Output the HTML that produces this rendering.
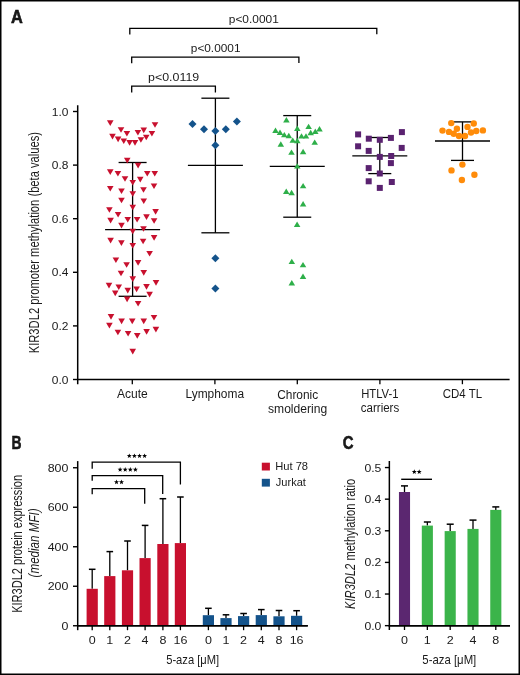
<!DOCTYPE html>
<html><head><meta charset="utf-8"><style>
html,body{margin:0;padding:0;background:#fff;}
body{width:520px;height:675px;overflow:hidden;}
svg{display:block;will-change:transform;}
svg text{font-family:"Liberation Sans",sans-serif;fill:#1a1a1a;}
</style></head><body>
<svg width="520" height="675" viewBox="0 0 520 675">
<rect x="0" y="0" width="520" height="675" fill="#fff"/>
<rect x="0.75" y="0.75" width="518.5" height="673.5" fill="none" stroke="#000" stroke-width="1.5"/>
<text x="10.90" y="22.80" font-size="17.5" text-anchor="start" font-weight="bold" font-style="normal" textLength="11.80" lengthAdjust="spacingAndGlyphs" stroke="#000" stroke-width="0.5">A</text>
<line x1="77.70" y1="105.30" x2="77.70" y2="384.30" stroke="#000" stroke-width="1.5"/>
<line x1="77.00" y1="379.50" x2="509.60" y2="379.50" stroke="#000" stroke-width="1.5"/>
<line x1="73.00" y1="379.50" x2="77.70" y2="379.50" stroke="#000" stroke-width="1.4"/>
<text x="68.40" y="383.60" font-size="11.3" text-anchor="end" font-weight="normal" font-style="normal" textLength="16.65" lengthAdjust="spacingAndGlyphs">0.0</text>
<line x1="73.00" y1="325.90" x2="77.70" y2="325.90" stroke="#000" stroke-width="1.4"/>
<text x="68.40" y="330.00" font-size="11.3" text-anchor="end" font-weight="normal" font-style="normal" textLength="16.65" lengthAdjust="spacingAndGlyphs">0.2</text>
<line x1="73.00" y1="272.30" x2="77.70" y2="272.30" stroke="#000" stroke-width="1.4"/>
<text x="68.40" y="276.40" font-size="11.3" text-anchor="end" font-weight="normal" font-style="normal" textLength="16.65" lengthAdjust="spacingAndGlyphs">0.4</text>
<line x1="73.00" y1="218.70" x2="77.70" y2="218.70" stroke="#000" stroke-width="1.4"/>
<text x="68.40" y="222.80" font-size="11.3" text-anchor="end" font-weight="normal" font-style="normal" textLength="16.65" lengthAdjust="spacingAndGlyphs">0.6</text>
<line x1="73.00" y1="165.10" x2="77.70" y2="165.10" stroke="#000" stroke-width="1.4"/>
<text x="68.40" y="169.20" font-size="11.3" text-anchor="end" font-weight="normal" font-style="normal" textLength="16.65" lengthAdjust="spacingAndGlyphs">0.8</text>
<line x1="73.00" y1="111.50" x2="77.70" y2="111.50" stroke="#000" stroke-width="1.4"/>
<text x="68.40" y="115.60" font-size="11.3" text-anchor="end" font-weight="normal" font-style="normal" textLength="16.65" lengthAdjust="spacingAndGlyphs">1.0</text>
<line x1="132.30" y1="379.50" x2="132.30" y2="384.20" stroke="#000" stroke-width="1.3"/>
<line x1="214.90" y1="379.50" x2="214.90" y2="384.20" stroke="#000" stroke-width="1.3"/>
<line x1="297.30" y1="379.50" x2="297.30" y2="384.20" stroke="#000" stroke-width="1.3"/>
<line x1="379.90" y1="379.50" x2="379.90" y2="384.20" stroke="#000" stroke-width="1.3"/>
<line x1="462.40" y1="379.50" x2="462.40" y2="384.20" stroke="#000" stroke-width="1.3"/>
<text x="132.30" y="397.90" font-size="12" text-anchor="middle" font-weight="normal" font-style="normal" textLength="30.80" lengthAdjust="spacingAndGlyphs">Acute</text>
<text x="214.80" y="398.30" font-size="12" text-anchor="middle" font-weight="normal" font-style="normal" textLength="58.50" lengthAdjust="spacingAndGlyphs">Lymphoma</text>
<text x="297.70" y="398.80" font-size="12" text-anchor="middle" font-weight="normal" font-style="normal" textLength="41.00" lengthAdjust="spacingAndGlyphs">Chronic</text>
<text x="297.60" y="412.70" font-size="12" text-anchor="middle" font-weight="normal" font-style="normal" textLength="59.20" lengthAdjust="spacingAndGlyphs">smoldering</text>
<text x="379.80" y="397.70" font-size="12" text-anchor="middle" font-weight="normal" font-style="normal" textLength="37.30" lengthAdjust="spacingAndGlyphs">HTLV-1</text>
<text x="380.00" y="411.70" font-size="12" text-anchor="middle" font-weight="normal" font-style="normal" textLength="38.40" lengthAdjust="spacingAndGlyphs">carriers</text>
<text x="462.40" y="397.80" font-size="12" text-anchor="middle" font-weight="normal" font-style="normal" textLength="39.30" lengthAdjust="spacingAndGlyphs">CD4 TL</text>
<text transform="translate(38.7,353.3) rotate(-90)" x="0" y="0" font-size="15" textLength="221.4" lengthAdjust="spacingAndGlyphs">KIR3DL2 promoter methylation (beta values)</text>
<polyline points="129.80,34.40 129.80,28.40 376.80,28.40 376.80,34.30" fill="none" stroke="#000" stroke-width="1.3"/>
<polyline points="131.70,63.30 131.70,57.20 298.90,57.20 298.90,63.00" fill="none" stroke="#000" stroke-width="1.3"/>
<polyline points="131.70,92.50 131.70,86.10 215.40,86.10 215.40,92.40" fill="none" stroke="#000" stroke-width="1.3"/>
<text x="228.80" y="22.70" font-size="11.5" text-anchor="start" font-weight="normal" font-style="normal" textLength="50.00" lengthAdjust="spacingAndGlyphs">p&lt;0.0001</text>
<text x="190.80" y="51.50" font-size="11.5" text-anchor="start" font-weight="normal" font-style="normal" textLength="49.70" lengthAdjust="spacingAndGlyphs">p&lt;0.0001</text>
<text x="148.00" y="80.80" font-size="11.5" text-anchor="start" font-weight="normal" font-style="normal" textLength="51.20" lengthAdjust="spacingAndGlyphs">p&lt;0.0119</text>
<line x1="132.60" y1="162.50" x2="132.60" y2="296.30" stroke="#000" stroke-width="1.3"/>
<line x1="105.10" y1="229.60" x2="160.10" y2="229.60" stroke="#000" stroke-width="1.3"/>
<line x1="118.60" y1="162.50" x2="146.60" y2="162.50" stroke="#000" stroke-width="1.3"/>
<line x1="118.60" y1="296.30" x2="146.60" y2="296.30" stroke="#000" stroke-width="1.3"/>
<polygon points="106.95,120.30 113.55,120.30 110.25,125.90" fill="#C8102E"/>
<polygon points="151.70,122.20 158.30,122.20 155.00,127.80" fill="#C8102E"/>
<polygon points="117.70,127.20 124.30,127.20 121.00,132.80" fill="#C8102E"/>
<polygon points="140.45,127.60 147.05,127.60 143.75,133.20" fill="#C8102E"/>
<polygon points="123.60,130.95 130.20,130.95 126.90,136.55" fill="#C8102E"/>
<polygon points="134.60,129.95 141.20,129.95 137.90,135.55" fill="#C8102E"/>
<polygon points="148.60,130.95 155.20,130.95 151.90,136.55" fill="#C8102E"/>
<polygon points="109.20,133.80 115.80,133.80 112.50,139.40" fill="#C8102E"/>
<polygon points="114.80,136.60 121.40,136.60 118.10,142.20" fill="#C8102E"/>
<polygon points="142.95,134.70 149.55,134.70 146.25,140.30" fill="#C8102E"/>
<polygon points="120.45,138.45 127.05,138.45 123.75,144.05" fill="#C8102E"/>
<polygon points="126.30,140.10 132.90,140.10 129.60,145.70" fill="#C8102E"/>
<polygon points="131.70,140.10 138.30,140.10 135.00,145.70" fill="#C8102E"/>
<polygon points="137.60,137.20 144.20,137.20 140.90,142.80" fill="#C8102E"/>
<polygon points="123.95,157.80 130.55,157.80 127.25,163.40" fill="#C8102E"/>
<polygon points="134.80,162.80 141.40,162.80 138.10,168.40" fill="#C8102E"/>
<polygon points="106.95,169.30 113.55,169.30 110.25,174.90" fill="#C8102E"/>
<polygon points="114.60,170.95 121.20,170.95 117.90,176.55" fill="#C8102E"/>
<polygon points="143.95,170.95 150.55,170.95 147.25,176.55" fill="#C8102E"/>
<polygon points="151.45,170.95 158.05,170.95 154.75,176.55" fill="#C8102E"/>
<polygon points="121.70,176.20 128.30,176.20 125.00,181.80" fill="#C8102E"/>
<polygon points="136.95,176.80 143.55,176.80 140.25,182.40" fill="#C8102E"/>
<polygon points="129.45,179.95 136.05,179.95 132.75,185.55" fill="#C8102E"/>
<polygon points="150.70,183.45 157.30,183.45 154.00,189.05" fill="#C8102E"/>
<polygon points="106.95,185.95 113.55,185.95 110.25,191.55" fill="#C8102E"/>
<polygon points="118.20,188.45 124.80,188.45 121.50,194.05" fill="#C8102E"/>
<polygon points="140.20,187.20 146.80,187.20 143.50,192.80" fill="#C8102E"/>
<polygon points="129.45,191.20 136.05,191.20 132.75,196.80" fill="#C8102E"/>
<polygon points="118.20,197.70 124.80,197.70 121.50,203.30" fill="#C8102E"/>
<polygon points="140.45,198.50 147.05,198.50 143.75,204.10" fill="#C8102E"/>
<polygon points="129.45,204.70 136.05,204.70 132.75,210.30" fill="#C8102E"/>
<polygon points="106.10,207.20 112.70,207.20 109.40,212.80" fill="#C8102E"/>
<polygon points="152.30,209.10 158.90,209.10 155.60,214.70" fill="#C8102E"/>
<polygon points="114.80,211.95 121.40,211.95 118.10,217.55" fill="#C8102E"/>
<polygon points="143.20,214.30 149.80,214.30 146.50,219.90" fill="#C8102E"/>
<polygon points="107.30,217.80 113.90,217.80 110.60,223.40" fill="#C8102E"/>
<polygon points="124.45,216.95 131.05,216.95 127.75,222.55" fill="#C8102E"/>
<polygon points="133.80,216.95 140.40,216.95 137.10,222.55" fill="#C8102E"/>
<polygon points="150.80,218.20 157.40,218.20 154.10,223.80" fill="#C8102E"/>
<polygon points="118.20,222.80 124.80,222.80 121.50,228.40" fill="#C8102E"/>
<polygon points="140.20,226.20 146.80,226.20 143.50,231.80" fill="#C8102E"/>
<polygon points="129.45,228.70 136.05,228.70 132.75,234.30" fill="#C8102E"/>
<polygon points="107.30,237.80 113.90,237.80 110.60,243.40" fill="#C8102E"/>
<polygon points="150.80,235.10 157.40,235.10 154.10,240.70" fill="#C8102E"/>
<polygon points="118.10,240.30 124.70,240.30 121.40,245.90" fill="#C8102E"/>
<polygon points="139.80,238.70 146.40,238.70 143.10,244.30" fill="#C8102E"/>
<polygon points="129.45,243.00 136.05,243.00 132.75,248.60" fill="#C8102E"/>
<polygon points="146.30,250.95 152.90,250.95 149.60,256.55" fill="#C8102E"/>
<polygon points="112.60,257.45 119.20,257.45 115.90,263.05" fill="#C8102E"/>
<polygon points="134.80,260.10 141.40,260.10 138.10,265.70" fill="#C8102E"/>
<polygon points="123.30,262.20 129.90,262.20 126.60,267.80" fill="#C8102E"/>
<polygon points="117.70,270.70 124.30,270.70 121.00,276.30" fill="#C8102E"/>
<polygon points="140.45,270.10 147.05,270.10 143.75,275.70" fill="#C8102E"/>
<polygon points="129.45,276.30 136.05,276.30 132.75,281.90" fill="#C8102E"/>
<polygon points="105.70,282.80 112.30,282.80 109.00,288.40" fill="#C8102E"/>
<polygon points="152.70,280.10 159.30,280.10 156.00,285.70" fill="#C8102E"/>
<polygon points="115.45,284.45 122.05,284.45 118.75,290.05" fill="#C8102E"/>
<polygon points="143.20,284.10 149.80,284.10 146.50,289.70" fill="#C8102E"/>
<polygon points="133.30,286.60 139.90,286.60 136.60,292.20" fill="#C8102E"/>
<polygon points="124.45,287.80 131.05,287.80 127.75,293.40" fill="#C8102E"/>
<polygon points="111.95,290.60 118.55,290.60 115.25,296.20" fill="#C8102E"/>
<polygon points="146.30,291.80 152.90,291.80 149.60,297.40" fill="#C8102E"/>
<polygon points="123.80,296.60 130.40,296.60 127.10,302.20" fill="#C8102E"/>
<polygon points="134.80,300.95 141.40,300.95 138.10,306.55" fill="#C8102E"/>
<polygon points="107.70,314.10 114.30,314.10 111.00,319.70" fill="#C8102E"/>
<polygon points="150.70,314.95 157.30,314.95 154.00,320.55" fill="#C8102E"/>
<polygon points="118.30,318.60 124.90,318.60 121.60,324.20" fill="#C8102E"/>
<polygon points="128.95,318.60 135.55,318.60 132.25,324.20" fill="#C8102E"/>
<polygon points="140.45,318.60 147.05,318.60 143.75,324.20" fill="#C8102E"/>
<polygon points="106.10,322.80 112.70,322.80 109.40,328.40" fill="#C8102E"/>
<polygon points="152.60,326.80 159.20,326.80 155.90,332.40" fill="#C8102E"/>
<polygon points="114.60,329.70 121.20,329.70 117.90,335.30" fill="#C8102E"/>
<polygon points="143.30,329.10 149.90,329.10 146.60,334.70" fill="#C8102E"/>
<polygon points="124.80,330.95 131.40,330.95 128.10,336.55" fill="#C8102E"/>
<polygon points="133.95,333.10 140.55,333.10 137.25,338.70" fill="#C8102E"/>
<polygon points="129.45,348.80 136.05,348.80 132.75,354.40" fill="#C8102E"/>
<line x1="215.40" y1="98.20" x2="215.40" y2="232.80" stroke="#000" stroke-width="1.3"/>
<line x1="187.90" y1="165.40" x2="242.90" y2="165.40" stroke="#000" stroke-width="1.3"/>
<line x1="201.40" y1="98.20" x2="229.40" y2="98.20" stroke="#000" stroke-width="1.3"/>
<line x1="201.40" y1="232.80" x2="229.40" y2="232.80" stroke="#000" stroke-width="1.3"/>
<polygon points="192.50,119.90 196.50,123.90 192.50,127.90 188.50,123.90" fill="#14538B"/>
<polygon points="204.00,125.30 208.00,129.30 204.00,133.30 200.00,129.30" fill="#14538B"/>
<polygon points="215.40,127.10 219.40,131.10 215.40,135.10 211.40,131.10" fill="#14538B"/>
<polygon points="225.80,125.30 229.80,129.30 225.80,133.30 221.80,129.30" fill="#14538B"/>
<polygon points="236.90,117.60 240.90,121.60 236.90,125.60 232.90,121.60" fill="#14538B"/>
<polygon points="215.40,141.20 219.40,145.20 215.40,149.20 211.40,145.20" fill="#14538B"/>
<polygon points="215.40,254.30 219.40,258.30 215.40,262.30 211.40,258.30" fill="#14538B"/>
<polygon points="215.40,284.40 219.40,288.40 215.40,292.40 211.40,288.40" fill="#14538B"/>
<line x1="297.25" y1="115.60" x2="297.25" y2="217.20" stroke="#000" stroke-width="1.3"/>
<line x1="269.75" y1="166.40" x2="324.75" y2="166.40" stroke="#000" stroke-width="1.3"/>
<line x1="283.25" y1="115.60" x2="311.25" y2="115.60" stroke="#000" stroke-width="1.3"/>
<line x1="283.25" y1="217.20" x2="311.25" y2="217.20" stroke="#000" stroke-width="1.3"/>
<polygon points="283.15,122.50 289.65,122.50 286.40,117.10" fill="#2EAF49"/>
<polygon points="294.05,131.00 300.55,131.00 297.30,125.60" fill="#2EAF49"/>
<polygon points="305.35,129.10 311.85,129.10 308.60,123.70" fill="#2EAF49"/>
<polygon points="272.25,132.90 278.75,132.90 275.50,127.50" fill="#2EAF49"/>
<polygon points="276.75,135.00 283.25,135.00 280.00,129.60" fill="#2EAF49"/>
<polygon points="281.05,137.30 287.55,137.30 284.30,131.90" fill="#2EAF49"/>
<polygon points="285.55,138.20 292.05,138.20 288.80,132.80" fill="#2EAF49"/>
<polygon points="298.25,138.60 304.75,138.60 301.50,133.20" fill="#2EAF49"/>
<polygon points="302.75,138.60 309.25,138.60 306.00,133.20" fill="#2EAF49"/>
<polygon points="307.45,135.20 313.95,135.20 310.70,129.80" fill="#2EAF49"/>
<polygon points="312.05,134.00 318.55,134.00 315.30,128.60" fill="#2EAF49"/>
<polygon points="316.25,131.50 322.75,131.50 319.50,126.10" fill="#2EAF49"/>
<polygon points="289.50,142.80 296.00,142.80 292.75,137.40" fill="#2EAF49"/>
<polygon points="294.05,143.20 300.55,143.20 297.30,137.80" fill="#2EAF49"/>
<polygon points="277.55,146.70 284.05,146.70 280.80,141.30" fill="#2EAF49"/>
<polygon points="311.45,144.80 317.95,144.80 314.70,139.40" fill="#2EAF49"/>
<polygon points="288.25,154.80 294.75,154.80 291.50,149.40" fill="#2EAF49"/>
<polygon points="299.85,154.20 306.35,154.20 303.10,148.80" fill="#2EAF49"/>
<polygon points="294.00,168.55 300.50,168.55 297.25,163.15" fill="#2EAF49"/>
<polygon points="299.85,188.30 306.35,188.30 303.10,182.90" fill="#2EAF49"/>
<polygon points="283.00,193.90 289.50,193.90 286.25,188.50" fill="#2EAF49"/>
<polygon points="288.35,195.20 294.85,195.20 291.60,189.80" fill="#2EAF49"/>
<polygon points="299.85,206.40 306.35,206.40 303.10,201.00" fill="#2EAF49"/>
<polygon points="293.85,227.00 300.35,227.00 297.10,221.60" fill="#2EAF49"/>
<polygon points="288.55,264.10 295.05,264.10 291.80,258.70" fill="#2EAF49"/>
<polygon points="299.75,267.30 306.25,267.30 303.00,261.90" fill="#2EAF49"/>
<polygon points="299.75,279.00 306.25,279.00 303.00,273.60" fill="#2EAF49"/>
<polygon points="288.55,285.50 295.05,285.50 291.80,280.10" fill="#2EAF49"/>
<line x1="379.80" y1="137.50" x2="379.80" y2="173.60" stroke="#000" stroke-width="1.3"/>
<line x1="352.30" y1="155.80" x2="407.30" y2="155.80" stroke="#000" stroke-width="1.3"/>
<line x1="368.30" y1="137.50" x2="391.30" y2="137.50" stroke="#000" stroke-width="1.3"/>
<line x1="368.30" y1="173.60" x2="391.30" y2="173.60" stroke="#000" stroke-width="1.3"/>
<rect x="355.10" y="131.40" width="6.00" height="6.00" fill="#5A2270"/>
<rect x="398.90" y="129.10" width="6.00" height="6.00" fill="#5A2270"/>
<rect x="365.80" y="135.70" width="6.00" height="6.00" fill="#5A2270"/>
<rect x="376.80" y="136.80" width="6.00" height="6.00" fill="#5A2270"/>
<rect x="387.90" y="134.90" width="6.00" height="6.00" fill="#5A2270"/>
<rect x="355.10" y="143.30" width="6.00" height="6.00" fill="#5A2270"/>
<rect x="398.70" y="144.90" width="6.00" height="6.00" fill="#5A2270"/>
<rect x="365.70" y="147.90" width="6.00" height="6.00" fill="#5A2270"/>
<rect x="376.80" y="153.90" width="6.00" height="6.00" fill="#5A2270"/>
<rect x="388.20" y="153.00" width="6.00" height="6.00" fill="#5A2270"/>
<rect x="387.90" y="160.10" width="6.00" height="6.00" fill="#5A2270"/>
<rect x="365.70" y="165.10" width="6.00" height="6.00" fill="#5A2270"/>
<rect x="376.80" y="170.50" width="6.00" height="6.00" fill="#5A2270"/>
<rect x="365.70" y="178.30" width="6.00" height="6.00" fill="#5A2270"/>
<rect x="388.80" y="179.00" width="6.00" height="6.00" fill="#5A2270"/>
<rect x="376.80" y="184.90" width="6.00" height="6.00" fill="#5A2270"/>
<line x1="462.50" y1="121.90" x2="462.50" y2="160.40" stroke="#000" stroke-width="1.3"/>
<line x1="435.00" y1="141.00" x2="490.00" y2="141.00" stroke="#000" stroke-width="1.3"/>
<line x1="451.00" y1="121.90" x2="474.00" y2="121.90" stroke="#000" stroke-width="1.3"/>
<line x1="451.00" y1="160.40" x2="474.00" y2="160.40" stroke="#000" stroke-width="1.3"/>
<circle cx="451.25" cy="123.10" r="3.2" fill="#FF8C0A"/>
<circle cx="473.75" cy="123.50" r="3.2" fill="#FF8C0A"/>
<circle cx="456.90" cy="128.75" r="3.2" fill="#FF8C0A"/>
<circle cx="467.50" cy="126.90" r="3.2" fill="#FF8C0A"/>
<circle cx="442.50" cy="130.60" r="3.2" fill="#FF8C0A"/>
<circle cx="449.00" cy="131.90" r="3.2" fill="#FF8C0A"/>
<circle cx="453.75" cy="133.75" r="3.2" fill="#FF8C0A"/>
<circle cx="459.00" cy="136.00" r="3.2" fill="#FF8C0A"/>
<circle cx="465.00" cy="136.00" r="3.2" fill="#FF8C0A"/>
<circle cx="471.00" cy="132.50" r="3.2" fill="#FF8C0A"/>
<circle cx="476.25" cy="131.00" r="3.2" fill="#FF8C0A"/>
<circle cx="482.90" cy="130.40" r="3.2" fill="#FF8C0A"/>
<circle cx="462.40" cy="164.60" r="3.2" fill="#FF8C0A"/>
<circle cx="451.50" cy="170.40" r="3.2" fill="#FF8C0A"/>
<circle cx="474.40" cy="174.75" r="3.2" fill="#FF8C0A"/>
<circle cx="461.90" cy="180.00" r="3.2" fill="#FF8C0A"/>
<text x="11.40" y="448.70" font-size="17.5" text-anchor="start" font-weight="bold" font-style="normal" textLength="10.00" lengthAdjust="spacingAndGlyphs" stroke="#000" stroke-width="0.5">B</text>
<line x1="77.70" y1="461.10" x2="77.70" y2="630.20" stroke="#000" stroke-width="1.5"/>
<line x1="77.00" y1="625.75" x2="307.80" y2="625.75" stroke="#000" stroke-width="1.5"/>
<line x1="73.00" y1="625.75" x2="77.70" y2="625.75" stroke="#000" stroke-width="1.4"/>
<text x="68.40" y="629.75" font-size="11.3" text-anchor="end" font-weight="normal" font-style="normal" textLength="6.91" lengthAdjust="spacingAndGlyphs">0</text>
<line x1="73.00" y1="586.25" x2="77.70" y2="586.25" stroke="#000" stroke-width="1.4"/>
<text x="68.40" y="590.25" font-size="11.3" text-anchor="end" font-weight="normal" font-style="normal" textLength="20.73" lengthAdjust="spacingAndGlyphs">200</text>
<line x1="73.00" y1="546.75" x2="77.70" y2="546.75" stroke="#000" stroke-width="1.4"/>
<text x="68.40" y="550.75" font-size="11.3" text-anchor="end" font-weight="normal" font-style="normal" textLength="20.73" lengthAdjust="spacingAndGlyphs">400</text>
<line x1="73.00" y1="507.25" x2="77.70" y2="507.25" stroke="#000" stroke-width="1.4"/>
<text x="68.40" y="511.25" font-size="11.3" text-anchor="end" font-weight="normal" font-style="normal" textLength="20.73" lengthAdjust="spacingAndGlyphs">600</text>
<line x1="73.00" y1="467.75" x2="77.70" y2="467.75" stroke="#000" stroke-width="1.4"/>
<text x="68.40" y="471.75" font-size="11.3" text-anchor="end" font-weight="normal" font-style="normal" textLength="20.73" lengthAdjust="spacingAndGlyphs">800</text>
<line x1="92.20" y1="625.75" x2="92.20" y2="630.20" stroke="#000" stroke-width="1.3"/>
<text x="92.20" y="643.50" font-size="11.2" text-anchor="middle" font-weight="normal" font-style="normal" textLength="6.97" lengthAdjust="spacingAndGlyphs">0</text>
<line x1="109.80" y1="625.75" x2="109.80" y2="630.20" stroke="#000" stroke-width="1.3"/>
<text x="109.80" y="643.50" font-size="11.2" text-anchor="middle" font-weight="normal" font-style="normal" textLength="6.97" lengthAdjust="spacingAndGlyphs">1</text>
<line x1="127.50" y1="625.75" x2="127.50" y2="630.20" stroke="#000" stroke-width="1.3"/>
<text x="127.50" y="643.50" font-size="11.2" text-anchor="middle" font-weight="normal" font-style="normal" textLength="6.97" lengthAdjust="spacingAndGlyphs">2</text>
<line x1="145.10" y1="625.75" x2="145.10" y2="630.20" stroke="#000" stroke-width="1.3"/>
<text x="145.10" y="643.50" font-size="11.2" text-anchor="middle" font-weight="normal" font-style="normal" textLength="6.97" lengthAdjust="spacingAndGlyphs">4</text>
<line x1="162.90" y1="625.75" x2="162.90" y2="630.20" stroke="#000" stroke-width="1.3"/>
<text x="162.90" y="643.50" font-size="11.2" text-anchor="middle" font-weight="normal" font-style="normal" textLength="6.97" lengthAdjust="spacingAndGlyphs">8</text>
<line x1="180.40" y1="625.75" x2="180.40" y2="630.20" stroke="#000" stroke-width="1.3"/>
<text x="180.40" y="643.50" font-size="11.2" text-anchor="middle" font-weight="normal" font-style="normal" textLength="13.95" lengthAdjust="spacingAndGlyphs">16</text>
<line x1="208.40" y1="625.75" x2="208.40" y2="630.20" stroke="#000" stroke-width="1.3"/>
<text x="208.40" y="643.50" font-size="11.2" text-anchor="middle" font-weight="normal" font-style="normal" textLength="6.97" lengthAdjust="spacingAndGlyphs">0</text>
<line x1="226.00" y1="625.75" x2="226.00" y2="630.20" stroke="#000" stroke-width="1.3"/>
<text x="226.00" y="643.50" font-size="11.2" text-anchor="middle" font-weight="normal" font-style="normal" textLength="6.97" lengthAdjust="spacingAndGlyphs">1</text>
<line x1="243.60" y1="625.75" x2="243.60" y2="630.20" stroke="#000" stroke-width="1.3"/>
<text x="243.60" y="643.50" font-size="11.2" text-anchor="middle" font-weight="normal" font-style="normal" textLength="6.97" lengthAdjust="spacingAndGlyphs">2</text>
<line x1="261.30" y1="625.75" x2="261.30" y2="630.20" stroke="#000" stroke-width="1.3"/>
<text x="261.30" y="643.50" font-size="11.2" text-anchor="middle" font-weight="normal" font-style="normal" textLength="6.97" lengthAdjust="spacingAndGlyphs">4</text>
<line x1="279.00" y1="625.75" x2="279.00" y2="630.20" stroke="#000" stroke-width="1.3"/>
<text x="279.00" y="643.50" font-size="11.2" text-anchor="middle" font-weight="normal" font-style="normal" textLength="6.97" lengthAdjust="spacingAndGlyphs">8</text>
<line x1="296.60" y1="625.75" x2="296.60" y2="630.20" stroke="#000" stroke-width="1.3"/>
<text x="296.60" y="643.50" font-size="11.2" text-anchor="middle" font-weight="normal" font-style="normal" textLength="13.95" lengthAdjust="spacingAndGlyphs">16</text>
<line x1="92.20" y1="569.30" x2="92.20" y2="588.80" stroke="#000" stroke-width="1.3"/>
<line x1="88.90" y1="569.30" x2="95.50" y2="569.30" stroke="#000" stroke-width="1.5"/>
<rect x="86.60" y="588.80" width="11.20" height="36.95" fill="#C8102E"/>
<line x1="109.80" y1="551.60" x2="109.80" y2="576.10" stroke="#000" stroke-width="1.3"/>
<line x1="106.50" y1="551.60" x2="113.10" y2="551.60" stroke="#000" stroke-width="1.5"/>
<rect x="104.20" y="576.10" width="11.20" height="49.65" fill="#C8102E"/>
<line x1="127.50" y1="541.00" x2="127.50" y2="570.30" stroke="#000" stroke-width="1.3"/>
<line x1="124.20" y1="541.00" x2="130.80" y2="541.00" stroke="#000" stroke-width="1.5"/>
<rect x="121.90" y="570.30" width="11.20" height="55.45" fill="#C8102E"/>
<line x1="145.10" y1="525.40" x2="145.10" y2="558.10" stroke="#000" stroke-width="1.3"/>
<line x1="141.80" y1="525.40" x2="148.40" y2="525.40" stroke="#000" stroke-width="1.5"/>
<rect x="139.50" y="558.10" width="11.20" height="67.65" fill="#C8102E"/>
<line x1="162.90" y1="498.70" x2="162.90" y2="544.00" stroke="#000" stroke-width="1.3"/>
<line x1="159.60" y1="498.70" x2="166.20" y2="498.70" stroke="#000" stroke-width="1.5"/>
<rect x="157.30" y="544.00" width="11.20" height="81.75" fill="#C8102E"/>
<line x1="180.40" y1="497.00" x2="180.40" y2="543.10" stroke="#000" stroke-width="1.3"/>
<line x1="177.10" y1="497.00" x2="183.70" y2="497.00" stroke="#000" stroke-width="1.5"/>
<rect x="174.80" y="543.10" width="11.20" height="82.65" fill="#C8102E"/>
<line x1="208.40" y1="608.30" x2="208.40" y2="615.20" stroke="#000" stroke-width="1.3"/>
<line x1="205.10" y1="608.30" x2="211.70" y2="608.30" stroke="#000" stroke-width="1.5"/>
<rect x="202.80" y="615.20" width="11.20" height="10.55" fill="#14538B"/>
<line x1="226.00" y1="614.80" x2="226.00" y2="618.10" stroke="#000" stroke-width="1.3"/>
<line x1="222.70" y1="614.80" x2="229.30" y2="614.80" stroke="#000" stroke-width="1.5"/>
<rect x="220.40" y="618.10" width="11.20" height="7.65" fill="#14538B"/>
<line x1="243.60" y1="613.50" x2="243.60" y2="616.10" stroke="#000" stroke-width="1.3"/>
<line x1="240.30" y1="613.50" x2="246.90" y2="613.50" stroke="#000" stroke-width="1.5"/>
<rect x="238.00" y="616.10" width="11.20" height="9.65" fill="#14538B"/>
<line x1="261.30" y1="609.60" x2="261.30" y2="615.10" stroke="#000" stroke-width="1.3"/>
<line x1="258.00" y1="609.60" x2="264.60" y2="609.60" stroke="#000" stroke-width="1.5"/>
<rect x="255.70" y="615.10" width="11.20" height="10.65" fill="#14538B"/>
<line x1="279.00" y1="610.50" x2="279.00" y2="616.30" stroke="#000" stroke-width="1.3"/>
<line x1="275.70" y1="610.50" x2="282.30" y2="610.50" stroke="#000" stroke-width="1.5"/>
<rect x="273.40" y="616.30" width="11.20" height="9.45" fill="#14538B"/>
<line x1="296.60" y1="610.70" x2="296.60" y2="615.80" stroke="#000" stroke-width="1.3"/>
<line x1="293.30" y1="610.70" x2="299.90" y2="610.70" stroke="#000" stroke-width="1.5"/>
<rect x="291.00" y="615.80" width="11.20" height="9.95" fill="#14538B"/>
<line x1="77.00" y1="625.75" x2="307.80" y2="625.75" stroke="#000" stroke-width="1.5"/>
<polyline points="92.20,468.70 92.20,462.20 180.40,462.20 180.40,484.60" fill="none" stroke="#000" stroke-width="1.3"/>
<polyline points="92.20,480.70 92.20,475.70 162.70,475.70 162.70,493.90" fill="none" stroke="#000" stroke-width="1.3"/>
<polyline points="92.20,494.30 92.20,488.60 144.70,488.60 144.70,503.70" fill="none" stroke="#000" stroke-width="1.3"/>
<polygon points="129.30,453.40 129.94,455.12 131.77,455.20 130.34,456.34 130.83,458.10 129.30,457.09 127.77,458.10 128.26,456.34 126.83,455.20 128.66,455.12" fill="#000"/>
<polygon points="134.40,453.40 135.04,455.12 136.87,455.20 135.44,456.34 135.93,458.10 134.40,457.09 132.87,458.10 133.36,456.34 131.93,455.20 133.76,455.12" fill="#000"/>
<polygon points="139.50,453.40 140.14,455.12 141.97,455.20 140.54,456.34 141.03,458.10 139.50,457.09 137.97,458.10 138.46,456.34 137.03,455.20 138.86,455.12" fill="#000"/>
<polygon points="144.60,453.40 145.24,455.12 147.07,455.20 145.64,456.34 146.13,458.10 144.60,457.09 143.07,458.10 143.56,456.34 142.13,455.20 143.96,455.12" fill="#000"/>
<polygon points="120.10,467.00 120.74,468.72 122.57,468.80 121.14,469.94 121.63,471.70 120.10,470.69 118.57,471.70 119.06,469.94 117.63,468.80 119.46,468.72" fill="#000"/>
<polygon points="125.20,467.00 125.84,468.72 127.67,468.80 126.24,469.94 126.73,471.70 125.20,470.69 123.67,471.70 124.16,469.94 122.73,468.80 124.56,468.72" fill="#000"/>
<polygon points="130.30,467.00 130.94,468.72 132.77,468.80 131.34,469.94 131.83,471.70 130.30,470.69 128.77,471.70 129.26,469.94 127.83,468.80 129.66,468.72" fill="#000"/>
<polygon points="135.40,467.00 136.04,468.72 137.87,468.80 136.44,469.94 136.93,471.70 135.40,470.69 133.87,471.70 134.36,469.94 132.93,468.80 134.76,468.72" fill="#000"/>
<polygon points="116.50,479.50 117.14,481.22 118.97,481.30 117.54,482.44 118.03,484.20 116.50,483.19 114.97,484.20 115.46,482.44 114.03,481.30 115.86,481.22" fill="#000"/>
<polygon points="121.50,479.50 122.14,481.22 123.97,481.30 122.54,482.44 123.03,484.20 121.50,483.19 119.97,484.20 120.46,482.44 119.03,481.30 120.86,481.22" fill="#000"/>
<rect x="261.80" y="462.70" width="8.10" height="7.80" fill="#C8102E"/>
<rect x="261.80" y="478.80" width="8.10" height="7.80" fill="#14538B"/>
<text x="275.20" y="469.60" font-size="11" text-anchor="start" font-weight="normal" font-style="normal" textLength="32.90" lengthAdjust="spacingAndGlyphs">Hut 78</text>
<text x="275.80" y="485.80" font-size="11" text-anchor="start" font-weight="normal" font-style="normal" textLength="30.10" lengthAdjust="spacingAndGlyphs">Jurkat</text>
<text x="166.20" y="663.80" font-size="13" text-anchor="start" font-weight="normal" font-style="normal" textLength="53.00" lengthAdjust="spacingAndGlyphs">5-aza [&#956;M]</text>
<text transform="translate(21.8,612.8) rotate(-90)" x="0" y="0" font-size="14" textLength="137.9" lengthAdjust="spacingAndGlyphs">KIR3DL2 protein expression</text>
<text transform="translate(39,577.4) rotate(-90)" x="0" y="0" font-size="14" font-style="italic" textLength="69" lengthAdjust="spacingAndGlyphs">(median MFI)</text>
<text x="342.70" y="448.60" font-size="17.5" text-anchor="start" font-weight="bold" font-style="normal" textLength="10.80" lengthAdjust="spacingAndGlyphs" stroke="#000" stroke-width="0.5">C</text>
<line x1="389.35" y1="461.00" x2="389.35" y2="630.00" stroke="#000" stroke-width="1.5"/>
<line x1="388.65" y1="625.65" x2="510.00" y2="625.65" stroke="#000" stroke-width="1.5"/>
<line x1="384.90" y1="625.65" x2="389.35" y2="625.65" stroke="#000" stroke-width="1.4"/>
<text x="381.40" y="629.65" font-size="11.3" text-anchor="end" font-weight="normal" font-style="normal" textLength="16.96" lengthAdjust="spacingAndGlyphs">0.0</text>
<line x1="384.90" y1="594.03" x2="389.35" y2="594.03" stroke="#000" stroke-width="1.4"/>
<text x="381.40" y="598.03" font-size="11.3" text-anchor="end" font-weight="normal" font-style="normal" textLength="16.96" lengthAdjust="spacingAndGlyphs">0.1</text>
<line x1="384.90" y1="562.41" x2="389.35" y2="562.41" stroke="#000" stroke-width="1.4"/>
<text x="381.40" y="566.41" font-size="11.3" text-anchor="end" font-weight="normal" font-style="normal" textLength="16.96" lengthAdjust="spacingAndGlyphs">0.2</text>
<line x1="384.90" y1="530.79" x2="389.35" y2="530.79" stroke="#000" stroke-width="1.4"/>
<text x="381.40" y="534.79" font-size="11.3" text-anchor="end" font-weight="normal" font-style="normal" textLength="16.96" lengthAdjust="spacingAndGlyphs">0.3</text>
<line x1="384.90" y1="499.17" x2="389.35" y2="499.17" stroke="#000" stroke-width="1.4"/>
<text x="381.40" y="503.17" font-size="11.3" text-anchor="end" font-weight="normal" font-style="normal" textLength="16.96" lengthAdjust="spacingAndGlyphs">0.4</text>
<line x1="384.90" y1="467.55" x2="389.35" y2="467.55" stroke="#000" stroke-width="1.4"/>
<text x="381.40" y="471.55" font-size="11.3" text-anchor="end" font-weight="normal" font-style="normal" textLength="16.96" lengthAdjust="spacingAndGlyphs">0.5</text>
<line x1="404.50" y1="485.90" x2="404.50" y2="492.00" stroke="#000" stroke-width="1.3"/>
<line x1="401.00" y1="485.90" x2="408.00" y2="485.90" stroke="#000" stroke-width="1.5"/>
<rect x="398.95" y="492.00" width="11.10" height="133.65" fill="#5B2770"/>
<line x1="404.50" y1="625.65" x2="404.50" y2="630.00" stroke="#000" stroke-width="1.3"/>
<text x="404.50" y="643.50" font-size="11.2" text-anchor="middle" font-weight="normal" font-style="normal" textLength="6.97" lengthAdjust="spacingAndGlyphs">0</text>
<line x1="427.35" y1="522.00" x2="427.35" y2="525.60" stroke="#000" stroke-width="1.3"/>
<line x1="423.85" y1="522.00" x2="430.85" y2="522.00" stroke="#000" stroke-width="1.5"/>
<rect x="421.80" y="525.60" width="11.10" height="100.05" fill="#3BB44A"/>
<line x1="427.35" y1="625.65" x2="427.35" y2="630.00" stroke="#000" stroke-width="1.3"/>
<text x="427.35" y="643.50" font-size="11.2" text-anchor="middle" font-weight="normal" font-style="normal" textLength="6.97" lengthAdjust="spacingAndGlyphs">1</text>
<line x1="450.20" y1="524.20" x2="450.20" y2="531.10" stroke="#000" stroke-width="1.3"/>
<line x1="446.70" y1="524.20" x2="453.70" y2="524.20" stroke="#000" stroke-width="1.5"/>
<rect x="444.65" y="531.10" width="11.10" height="94.55" fill="#3BB44A"/>
<line x1="450.20" y1="625.65" x2="450.20" y2="630.00" stroke="#000" stroke-width="1.3"/>
<text x="450.20" y="643.50" font-size="11.2" text-anchor="middle" font-weight="normal" font-style="normal" textLength="6.97" lengthAdjust="spacingAndGlyphs">2</text>
<line x1="473.00" y1="520.10" x2="473.00" y2="528.90" stroke="#000" stroke-width="1.3"/>
<line x1="469.50" y1="520.10" x2="476.50" y2="520.10" stroke="#000" stroke-width="1.5"/>
<rect x="467.45" y="528.90" width="11.10" height="96.75" fill="#3BB44A"/>
<line x1="473.00" y1="625.65" x2="473.00" y2="630.00" stroke="#000" stroke-width="1.3"/>
<text x="473.00" y="643.50" font-size="11.2" text-anchor="middle" font-weight="normal" font-style="normal" textLength="6.97" lengthAdjust="spacingAndGlyphs">4</text>
<line x1="495.80" y1="506.90" x2="495.80" y2="509.90" stroke="#000" stroke-width="1.3"/>
<line x1="492.30" y1="506.90" x2="499.30" y2="506.90" stroke="#000" stroke-width="1.5"/>
<rect x="490.25" y="509.90" width="11.10" height="115.75" fill="#3BB44A"/>
<line x1="495.80" y1="625.65" x2="495.80" y2="630.00" stroke="#000" stroke-width="1.3"/>
<text x="495.80" y="643.50" font-size="11.2" text-anchor="middle" font-weight="normal" font-style="normal" textLength="6.97" lengthAdjust="spacingAndGlyphs">8</text>
<line x1="388.65" y1="625.65" x2="510.00" y2="625.65" stroke="#000" stroke-width="1.5"/>
<line x1="401.20" y1="479.30" x2="432.00" y2="479.30" stroke="#000" stroke-width="1.4"/>
<polygon points="414.30,469.30 414.94,471.02 416.77,471.10 415.34,472.24 415.83,474.00 414.30,472.99 412.77,474.00 413.26,472.24 411.83,471.10 413.66,471.02" fill="#000"/>
<polygon points="419.20,469.30 419.84,471.02 421.67,471.10 420.24,472.24 420.73,474.00 419.20,472.99 417.67,474.00 418.16,472.24 416.73,471.10 418.56,471.02" fill="#000"/>
<text x="422.30" y="663.80" font-size="13" text-anchor="start" font-weight="normal" font-style="normal" textLength="54.00" lengthAdjust="spacingAndGlyphs">5-aza [&#956;M]</text>
<text transform="translate(355.2,608.9) rotate(-90)" x="0" y="0" font-size="14" textLength="130" lengthAdjust="spacingAndGlyphs"><tspan font-style="italic">KIR3DL2</tspan> methylation ratio</text>
</svg>
</body></html>
